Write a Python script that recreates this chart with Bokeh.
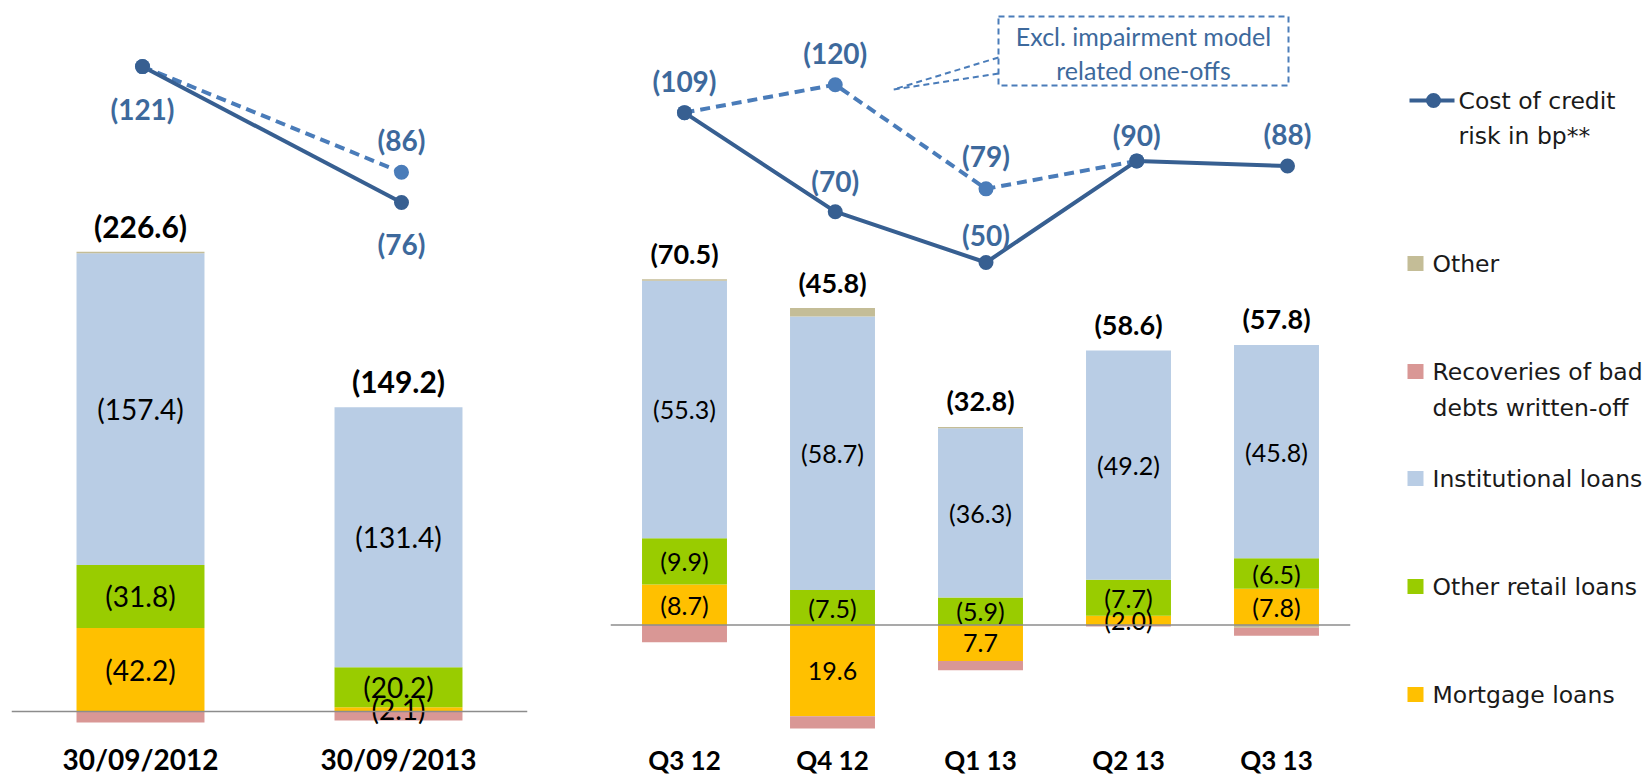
import numpy as np
from bokeh.plotting import figure
from bokeh.layouts import row
from bokeh.models import Range1d, Span
from bokeh.core.properties import value
from bokeh.embed import file_html
from bokeh.resources import INLINE

# ---------------- data ----------------
ytd_periods = ["30/09/2012", "30/09/2013"]
ytd_mortgage = [42.2, 2.1]
ytd_retail = [31.8, 20.2]
ytd_institutional = [157.4, 131.4]
ytd_other = [0.8, 0.0]
ytd_recoveries = [-5.6, -4.5]
ytd_cost_bp = [121, 76]
ytd_cost_bp_excl = [121, 86]

q_periods = ["Q3 12", "Q4 12", "Q1 13", "Q2 13", "Q3 13"]
q_mortgage = [8.7, -19.6, -7.7, 2.0, 7.8]
q_retail = [9.9, 7.5, 5.9, 7.7, 6.5]
q_institutional = [55.3, 58.7, 36.3, 49.2, 45.8]
q_other = [0.3, 1.8, 0.3, 0.0, -0.6]
q_recoveries = [-3.7, -2.6, -2.0, -0.3, -1.7]
q_cost_bp = [109, 70, 50, 90, 88]
q_cost_bp_excl = [109, 120, 79, 90]

series_names = ["Mortgage loans", "Other retail loans", "Institutional loans",
                "Other", "Recoveries of bad\ndebts written-off"]
labelled_series = ["Mortgage loans", "Other retail loans", "Institutional loans"]
line_name = "Cost of credit\nrisk in bp**"
annotation_lines = ["Excl. impairment model", "related one-offs"]
legend_order = ["Other", "Recoveries of bad\ndebts written-off", "Institutional loans",
                "Other retail loans", "Mortgage loans"]

# ---------------- styles ----------------
colors = {
    "Mortgage loans": "#FFC000",
    "Other retail loans": "#99CC00",
    "Institutional loans": "#B9CDE5",
    "Other": "#C4BD97",
    "Recoveries of bad\ndebts written-off": "#D99795",
}
SOLID = "#375F91"
DASHED = "#4A7CB9"
LBL_BLUE = "#3D699C"
FONT = value("Lato")
H = 777


def fmt_cost(v):
    return f"({v:.1f})" if v > 0 else f"{-v:.1f}"


def stack(series_list):
    n = len(series_list[0])
    pos = np.zeros(n)
    neg = np.zeros(n)
    out = []
    for vals in series_list:
        v = np.array(vals, dtype=float)
        bottom = np.where(v >= 0, pos, neg)
        top = bottom + v
        pos = np.where(v >= 0, top, pos)
        neg = np.where(v < 0, top, neg)
        out.append((bottom, top))
    return out, pos


def panel(periods, series_vals, cost, cost_excl, cfg):
    n = len(periods)
    xs = np.arange(n) + 0.5
    frame_w = cfg["frame_w"]
    p = figure(width=cfg["left"] + frame_w + cfg["right"], height=H,
               x_range=Range1d(0, n),
               y_range=Range1d(-(H - cfg["base"]) / cfg["scale"], cfg["base"] / cfg["scale"]),
               x_axis_location=None, y_axis_location=None,
               toolbar_location=None, output_backend="svg",
               min_border_left=cfg["left"], min_border_right=cfg["right"],
               min_border_top=0, min_border_bottom=0, outline_line_color=None)
    p.grid.visible = False
    # secondary scales for the cost-of-risk line (its own plot area in the original)
    lx0, lstep = cfg["line_x0"], cfg["line_step"]
    p.extra_x_ranges = {
        "px": Range1d(cfg["x0"], cfg["x0"] + frame_w),
        "bpx": Range1d(0.5 - (lx0 - cfg["x0"]) / lstep,
                       0.5 + (cfg["x0"] + frame_w - lx0) / lstep),
    }
    p.extra_y_ranges = {
        "bp": Range1d(-(H - cfg["lzero"]) / cfg["lscale"], cfg["lzero"] / cfg["lscale"]),
        "px": Range1d(H, 0),
    }

    stacks, pos_top = stack(series_vals)
    for name, vals, (b, t) in zip(series_names, series_vals, stacks):
        p.vbar(x=xs, bottom=b, top=t, width=cfg["bw"], fill_color=colors[name],
               line_color=None)

    p.add_layout(Span(location=0, dimension="width", line_color="#8C8C8C", line_width=1.5))

    # segment labels
    lx, ly, lt = [], [], []
    for name, vals, (b, t) in zip(series_names, series_vals, stacks):
        if name not in labelled_series:
            continue
        for i, v in enumerate(vals):
            if v != 0:
                lx.append(xs[i]); ly.append((b[i] + t[i]) / 2); lt.append(fmt_cost(v))
    p.text(x=lx, y=ly, text=lt, text_font=FONT, text_font_size=cfg["seg_fs"],
           text_align="center", text_baseline="middle", text_color="#000000")

    # totals
    totals = np.sum(np.array(series_vals, dtype=float), axis=0)
    p.text(x=xs, y=pos_top, text=[fmt_cost(round(v, 1)) for v in totals],
           y_offset=-26, text_font=FONT, text_font_style="bold",
           text_font_size=cfg["tot_fs"], text_align="center", text_baseline="middle",
           text_color="#000000")

    # category labels
    p.text(x=xs, y=[0] * n, text=periods, y_offset=cfg["cat_off"], text_font=FONT,
           text_font_style="bold", text_font_size=cfg["cat_fs"], text_align="center",
           text_baseline="middle", text_color="#000000")

    # cost of risk lines
    xe = xs[:len(cost_excl)]
    kw = dict(x_range_name="bpx", y_range_name="bp")
    p.line(x=xe, y=cost_excl, line_color=DASHED, line_width=4, line_dash="10 6", **kw)
    p.line(x=xs, y=cost, line_color=SOLID, line_width=4, **kw)
    p.scatter(x=xe, y=cost_excl, size=15, fill_color=DASHED, line_color=None, **kw)
    p.scatter(x=xs, y=cost, size=15, fill_color=SOLID, line_color=None, **kw)

    p.text(x=xs, y=cost, text=[f"({v})" for v in cost],
           y_offset=cfg["sol_off"], text_font=FONT, text_font_style="bold",
           text_font_size="28px", text_align="center", text_baseline="middle",
           text_color=LBL_BLUE, **kw)
    dx, dy, dt, do = [], [], [], []
    for i, v in enumerate(cost_excl):
        if v != cost[i]:
            dx.append(xs[i]); dy.append(v); dt.append(f"({v})"); do.append(cfg["dash_off"][i])
    p.text(x=dx, y=dy, text=dt, y_offset=do, text_font=FONT,
           text_font_style="bold", text_font_size="28px", text_align="center",
           text_baseline="middle", text_color=LBL_BLUE, **kw)
    return p


left_cfg = dict(left=11, right=33, frame_w=516, x0=11, base=711, scale=1.98,
                lzero=431.5, lscale=3.02, line_x0=142, line_step=259,
                bw=0.496, seg_fs="28px", tot_fs="30px",
                cat_fs="28px", cat_off=47, sol_off=[42, 42], dash_off=[0, -32])
right_cfg = dict(left=50, right=1, frame_w=740, x0=610, base=624.5, scale=4.66,
                 lzero=389, lscale=2.54, line_x0=684, line_step=150.75,
                 bw=0.574, seg_fs="25px", tot_fs="27px",
                 cat_fs="26px", cat_off=135, sol_off=[-32, -31, -28, -26, -32],
                 dash_off=[0, -32, -33, 0])

pl = panel(ytd_periods,
           [ytd_mortgage, ytd_retail, ytd_institutional, ytd_other, ytd_recoveries],
           ytd_cost_bp, ytd_cost_bp_excl, left_cfg)
pr = panel(q_periods,
           [q_mortgage, q_retail, q_institutional, q_other, q_recoveries],
           q_cost_bp, q_cost_bp_excl, right_cfg)

# annotation call-out (pixel coordinate range)
pr.quad(left=[998], right=[1288], top=[16], bottom=[85], x_range_name="px", y_range_name="px",
        fill_color=None, line_color=DASHED, line_width=2, line_dash="6 4")
pr.multi_line(xs=[[998, 893], [998, 893]], ys=[[57, 89], [73, 89]], x_range_name="px",
              y_range_name="px", line_color=DASHED, line_width=2, line_dash="6 4")
pr.text(x=[1143, 1143], y=[35, 69], text=annotation_lines, x_range_name="px", y_range_name="px",
        text_font=FONT, text_font_size="25px", text_align="center", text_baseline="middle",
        text_color="#3D699C")

# ---------------- legend ----------------
leg = figure(width=299, height=H, x_range=Range1d(1351, 1650), y_range=Range1d(H, 0),
             x_axis_location=None, y_axis_location=None, toolbar_location=None,
             output_backend="svg", min_border_left=0, min_border_right=0,
             min_border_top=0, min_border_bottom=0, outline_line_color=None)
leg.grid.visible = False
LFONT = value("DejaVu Sans")
leg.line(x=[1409, 1454], y=[100, 100], line_color=SOLID, line_width=4)
leg.scatter(x=[1433], y=[100], size=15, fill_color=SOLID, line_color=None)
tx, ty, tt = [], [], []
for k, ln in enumerate(line_name.split("\n")):
    tx.append(1458); ty.append(100 + 35 * k); tt.append(ln)
leg_y = [263, 371, 478, 586, 694]
for name, yy in zip(legend_order, leg_y):
    leg.rect(x=[1415], y=[yy], width=16, height=15, fill_color=colors[name], line_color=None)
    for k, ln in enumerate(name.split("\n")):
        tx.append(1432); ty.append(yy + 36 * k); tt.append(ln)
leg.text(x=tx, y=ty, text=tt, text_font=LFONT, text_font_size="23.5px", text_align="left",
         text_baseline="middle", text_color="#1A1A1A")

layout = row(pl, pr, leg)
open("out.html", "w").write(file_html(layout, INLINE))
